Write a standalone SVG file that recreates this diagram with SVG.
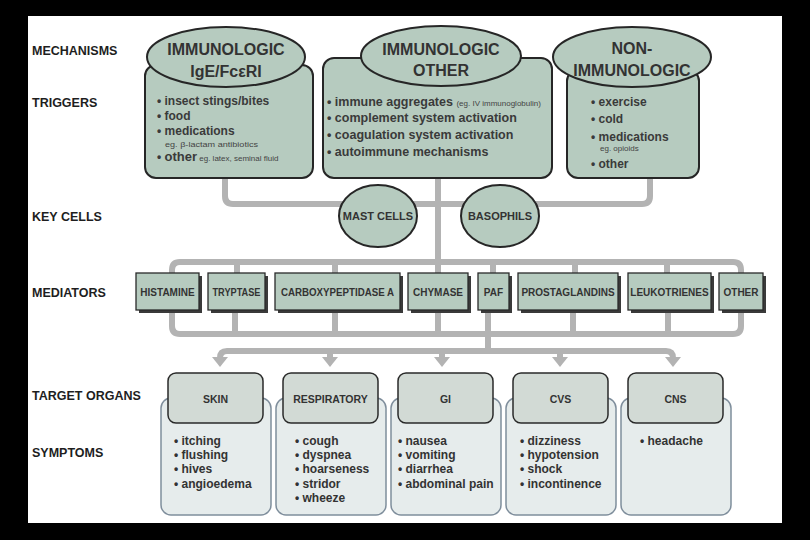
<svg xmlns="http://www.w3.org/2000/svg" width="810" height="540" viewBox="0 0 810 540">
<style>
text{font-family:"Liberation Sans",Arial,sans-serif;fill:#2e2e2e}
.lbl{font-size:12.5px;font-weight:bold;fill:#1e1e1e}
.mb{fill:#b6cbbf;stroke:#262626;stroke-width:2}
.mt{font-size:16px;font-weight:bold;text-anchor:middle;fill:#333}
.li{font-size:12px;font-weight:bold;fill:#3a3a3a}
.li2{font-size:12.5px;font-weight:bold;fill:#3a3a3a}
.sm{font-size:8px;font-weight:normal;fill:#444}
.conn{fill:none;stroke:#b3b3b3;stroke-width:6}
.arr{fill:#b3b3b3}
.med{fill:#b6cbbf;stroke:#2a2a2a;stroke-width:1.3}
.sh{fill:#3a3a3a}
.mtx{font-size:10px;font-weight:bold;text-anchor:middle;fill:#333}
.kc{font-size:11px;font-weight:bold;text-anchor:middle;fill:#333}
.oh{fill:#d2dad5;stroke:#2a2a2a;stroke-width:1.5}
.os{fill:#e6ecec;stroke:#7f8e9c;stroke-width:1.5}
.ot{font-size:10.5px;font-weight:bold;text-anchor:middle;fill:#333}
.st{font-size:12px;font-weight:bold;fill:#333}
</style>
<defs>
<path id="ah" d="M-8,0 H8 L0,10 Z" class="arr"/>
</defs>
<rect x="0" y="0" width="810" height="540" fill="#000"/>
<rect x="28" y="16" width="754" height="507" fill="#fff"/>

<g id="row-labels">
<text class="lbl" x="32" y="55">MECHANISMS</text>
<text class="lbl" x="32" y="107">TRIGGERS</text>
<text class="lbl" x="32" y="221">KEY CELLS</text>
<text class="lbl" x="32" y="297">MEDIATORS</text>
<text class="lbl" x="32" y="400">TARGET ORGANS</text>
<text class="lbl" x="32" y="457">SYMPTOMS</text>
</g>

<g id="connectors">
<path class="conn" d="M225,178 V196 Q225,204 233,204 H642 Q650,204 650,196 V178"/>
<path class="conn" d="M438,178 V273"/>
<path class="conn" d="M172,273 V270 Q172,262 180,262 H733 Q741,262 741,270 V273"/>
<path class="conn" d="M237,262 V273 M335,262 V273 M493,262 V273 M575,262 V273 M667,262 V273"/>
<path class="conn" d="M172,310 V326 Q172,334 180,334 H733 Q741,334 741,326 V310"/>
<path class="conn" d="M235,310 V334 M335,310 V334 M438,310 V334 M573,310 V334 M668,310 V334 M488,310 V351"/>
<path class="conn" d="M220,358 Q220,351 227,351 H666 Q673,351 673,358"/>
<path class="conn" d="M330,351 V358 M442,351 V358 M560,351 V358"/>
<use href="#ah" x="220" y="357"/>
<use href="#ah" x="330" y="357"/>
<use href="#ah" x="442" y="357"/>
<use href="#ah" x="560" y="357"/>
<use href="#ah" x="673" y="357"/>
</g>

<g id="mech-ige">
<rect class="mb" x="145" y="65" width="168" height="113" rx="11"/>
<ellipse class="mb" cx="226" cy="57" rx="79" ry="30"/>
<text class="mt" x="226" y="55">IMMUNOLOGIC</text>
<text class="mt" x="226" y="77">IgE/FcεRI</text>
<text class="li" x="157" y="105">• insect stings/bites</text>
<text class="li" x="157" y="120">• food</text>
<text class="li" x="157" y="135">• medications</text>
<text class="sm" x="165" y="147" font-size="8.5" textLength="93" lengthAdjust="spacingAndGlyphs">eg. β-lactam antibiotics</text>
<text class="li" x="157" y="161">• <tspan font-size="13">other</tspan><tspan class="sm" font-size="8.5"> eg. latex, seminal fluid</tspan></text>
</g>

<g id="mech-other">
<rect class="mb" x="323" y="58" width="229" height="120" rx="11"/>
<ellipse class="mb" cx="441" cy="56" rx="80" ry="30"/>
<text class="mt" x="441" y="55">IMMUNOLOGIC</text>
<text class="mt" x="441" y="76">OTHER</text>
<text class="li2" x="327" y="106">• immune aggregates <tspan class="sm">(eg. IV immunoglobulin)</tspan></text>
<text class="li2" x="327" y="122">• complement system activation</text>
<text class="li2" x="327" y="139">• coagulation system activation</text>
<text class="li2" x="327" y="156">• autoimmune mechanisms</text>
</g>

<g id="mech-non">
<rect class="mb" x="567" y="70" width="132" height="108" rx="11"/>
<ellipse class="mb" cx="632" cy="57" rx="79" ry="30"/>
<text class="mt" x="632" y="54">NON-</text>
<text class="mt" x="632" y="76">IMMUNOLOGIC</text>
<text class="li" x="591" y="106">• exercise</text>
<text class="li" x="591" y="123">• cold</text>
<text class="li" x="591" y="141">• medications</text>
<text class="sm" x="600" y="151" font-size="7.5">eg. opioids</text>
<text class="li" x="591" y="168">• other</text>
</g>

<g id="cell-mast">
<ellipse class="mb" cx="378" cy="216" rx="39" ry="31"/>
<text class="kc" x="378" y="220">MAST CELLS</text>
</g>
<g id="cell-baso">
<ellipse class="mb" cx="500" cy="216" rx="39" ry="31"/>
<text class="kc" x="500" y="220">BASOPHILS</text>
</g>

<g id="med-histamine"><rect class="sh" x="139" y="276" width="63" height="37"/><rect class="med" x="136" y="273" width="63" height="37"/><text class="mtx" x="167.5" y="296">HISTAMINE</text></g>
<g id="med-tryptase"><rect class="sh" x="211" y="276" width="57" height="37"/><rect class="med" x="208" y="273" width="57" height="37"/><text class="mtx" x="236.5" y="296" textLength="48" lengthAdjust="spacingAndGlyphs">TRYPTASE</text></g>
<g id="med-carboxy"><rect class="sh" x="278" y="276" width="125" height="37"/><rect class="med" x="275" y="273" width="125" height="37"/><text class="mtx" x="337.5" y="296" textLength="113" lengthAdjust="spacingAndGlyphs">CARBOXYPEPTIDASE A</text></g>
<g id="med-chymase"><rect class="sh" x="411" y="276" width="60" height="37"/><rect class="med" x="408" y="273" width="60" height="37"/><text class="mtx" x="438" y="296">CHYMASE</text></g>
<g id="med-paf"><rect class="sh" x="481" y="276" width="31" height="37"/><rect class="med" x="478" y="273" width="31" height="37"/><text class="mtx" x="493.5" y="296">PAF</text></g>
<g id="med-prosta"><rect class="sh" x="521" y="276" width="100" height="37"/><rect class="med" x="518" y="273" width="100" height="37"/><text class="mtx" x="568" y="296">PROSTAGLANDINS</text></g>
<g id="med-leuko"><rect class="sh" x="631" y="276" width="83" height="37"/><rect class="med" x="628" y="273" width="83" height="37"/><text class="mtx" x="669.5" y="296">LEUKOTRIENES</text></g>
<g id="med-other"><rect class="sh" x="722" y="276" width="44" height="37"/><rect class="med" x="719" y="273" width="44" height="37"/><text class="mtx" x="741" y="296">OTHER</text></g>

<g id="organ-skin">
<rect class="os" x="161" y="398" width="110" height="117" rx="10"/>
<rect class="oh" x="168" y="373" width="95" height="50" rx="8"/>
<text class="ot" x="215.5" y="403">SKIN</text>
<text class="st" x="174" y="445">• itching</text>
<text class="st" x="174" y="459">• flushing</text>
<text class="st" x="174" y="473">• hives</text>
<text class="st" x="174" y="488">• angioedema</text>
</g>
<g id="organ-resp">
<rect class="os" x="276" y="398" width="110" height="117" rx="10"/>
<rect class="oh" x="283" y="373" width="95" height="50" rx="8"/>
<text class="ot" x="330.5" y="403">RESPIRATORY</text>
<text class="st" x="295" y="445">• cough</text>
<text class="st" x="295" y="459">• dyspnea</text>
<text class="st" x="295" y="473">• hoarseness</text>
<text class="st" x="295" y="488">• stridor</text>
<text class="st" x="295" y="502">• wheeze</text>
</g>
<g id="organ-gi">
<rect class="os" x="391" y="398" width="110" height="117" rx="10"/>
<rect class="oh" x="398" y="373" width="95" height="50" rx="8"/>
<text class="ot" x="445.5" y="403">GI</text>
<text class="st" x="398" y="445">• nausea</text>
<text class="st" x="398" y="459">• vomiting</text>
<text class="st" x="398" y="473">• diarrhea</text>
<text class="st" x="398" y="488">• abdominal pain</text>
</g>
<g id="organ-cvs">
<rect class="os" x="506" y="398" width="110" height="117" rx="10"/>
<rect class="oh" x="513" y="373" width="95" height="50" rx="8"/>
<text class="ot" x="560.5" y="403">CVS</text>
<text class="st" x="520" y="445">• dizziness</text>
<text class="st" x="520" y="459">• hypotension</text>
<text class="st" x="520" y="473">• shock</text>
<text class="st" x="520" y="488">• incontinence</text>
</g>
<g id="organ-cns">
<rect class="os" x="621" y="398" width="110" height="117" rx="10"/>
<rect class="oh" x="628" y="373" width="95" height="50" rx="8"/>
<text class="ot" x="675.5" y="403">CNS</text>
<text class="st" x="640" y="445">• headache</text>
</g>
</svg>
